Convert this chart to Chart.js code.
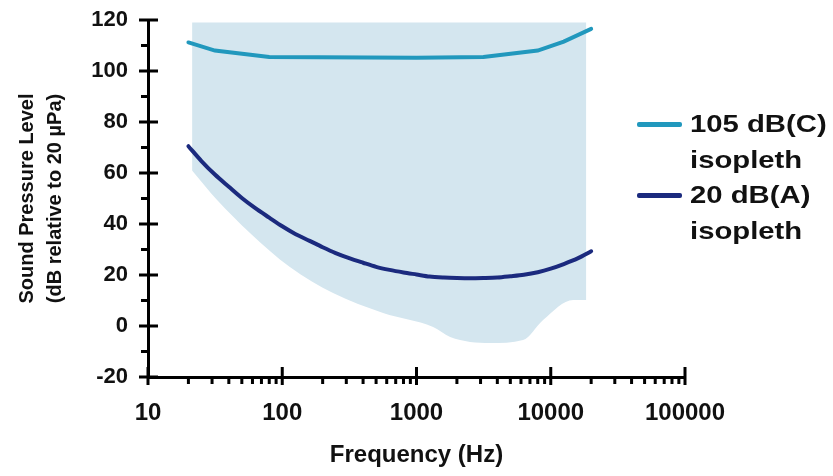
<html>
<head>
	<title>Sound pressure level isopleths</title>
	<script src="https://cdn.jsdelivr.net/npm/chart.js@4.4.1/dist/chart.umd.min.js"></script>
	<style>
		body {
			margin: 0;
			background: #fff;
		}

		#wrap {
			position: relative;
			width: 833px;
			height: 476px;
		}

		.legend {
			position: absolute;
			left: 637px;
			font-family: 'Liberation Sans', Arial, sans-serif;
			font-weight: bold;
			font-size: 24px;
			line-height: 36px;
			color: #111;
		}

		.legend .swatch {
			position: absolute;
			left: 0;
			top: 16px;
			width: 45px;
			height: 5px;
			border-radius: 2px;
		}

		.legend .text {
			position: absolute;
			left: 53px;
			top: 0;
			white-space: nowrap;
			transform: scaleX(1.22);
			transform-origin: left center;
		}
	</style>
</head>

<body>
	<div id="wrap">
		<canvas id="canvas" width="833" height="476"></canvas>
		<div class="legend" style="top: 106px;">
			<div class="swatch" style="background: #2198bd;"></div>
			<div class="text">105 dB(C)<br>isopleth</div>
		</div>
		<div class="legend" style="top: 177px;">
			<div class="swatch" style="background: #1b2a7e;"></div>
			<div class="text">20 dB(A)<br>isopleth</div>
		</div>
	</div>
	<script>
		// 105 dB(C) isopleth
		const freqC = [20, 31.5, 80, 1000, 3150, 8000, 12500, 20000];
		const levelC = [111.2, 108, 105.5, 105.2, 105.5, 108, 111.5, 116.5];

		// 20 dB(A) isopleth
		const freqA = [20, 25, 31.5, 40, 50, 63, 80, 100, 125, 160, 200, 250, 315, 400, 500, 630, 800, 1000,
			1250, 1600, 2000, 2500, 3150, 4000, 5000, 6300, 8000, 10000, 12500, 16000, 20000];
		const levelA = [70.5, 64.7, 59.4, 54.6, 50.2, 46.2, 42.5, 39.1, 36.1, 33.4, 30.9, 28.6, 26.6, 24.8, 23.2, 22, 21,
			20.2, 19.4, 19, 18.8, 18.7, 18.8, 19, 19.5, 20.1, 21.1, 22.5, 24.3, 26.6, 29.3];

		// light blue background area (upper and lower edge)
		const shadeTopFreq = [21.3, 18400];
		const shadeTopLevel = [119, 119];
		const shadeLowFreq = [21.3, 32.7, 57.5, 114, 239, 564, 1330, 1780, 3530, 6220, 8770, 14700, 18400];
		const shadeLowLevel = [61, 49.4, 36.5, 23.1, 12.9, 5.1, -0.4, -4.3, -6.7, -5.5, 2.4, 10.2, 10.2];

		// axis ticks
		const xTicks = [10, 100, 1000, 10000, 100000];
		const yTicks = [-20, 0, 20, 40, 60, 80, 100, 120];
		const yMinorTicks = [-10, 10, 30, 50, 70, 90, 110];
		const xMinorTicks = [];
		[10, 100, 1000, 10000].forEach((d) => {
			[2, 3, 4, 5, 6, 7, 8, 9].forEach((m) => xMinorTicks.push(d * m));
		});

		const toPoints = (xs, ys) => xs.map((x, i) => ({ x: x, y: ys[i] }));

		const fontFamily = "'Liberation Sans', Arial, sans-serif";

		// major ticks cross the axis, minor ticks only on the outside
		const axisTicks = {
			id: 'axisTicks',
			afterDraw(chart) {
				const { ctx, chartArea, scales } = chart;
				const left = chartArea.left;
				const bottom = chartArea.bottom;
				ctx.save();
				ctx.strokeStyle = '#000';
				ctx.lineWidth = 3;
				ctx.beginPath();
				yTicks.forEach((v) => {
					const py = scales.y.getPixelForValue(v);
					ctx.moveTo(left - 9, py);
					ctx.lineTo(left + 10, py);
				});
				yMinorTicks.forEach((v) => {
					const py = scales.y.getPixelForValue(v);
					ctx.moveTo(left - 7, py);
					ctx.lineTo(left, py);
				});
				xTicks.forEach((v) => {
					const px = scales.x.getPixelForValue(v);
					ctx.moveTo(px, bottom - 10);
					ctx.lineTo(px, bottom + 8);
				});
				xMinorTicks.forEach((v) => {
					const px = scales.x.getPixelForValue(v);
					ctx.moveTo(px, bottom);
					ctx.lineTo(px, bottom + 7);
				});
				ctx.stroke();
				ctx.restore();
			}
		};

		new Chart(document.getElementById('canvas'), {
			type: 'line',
			data: {
				datasets: [
					{
						label: '105 dB(C) isopleth',
						data: toPoints(freqC, levelC),
						borderColor: '#2198bd',
						borderWidth: 4,
						borderCapStyle: 'round',
						pointRadius: 0,
						tension: 0,
						fill: false,
					},
					{
						label: '20 dB(A) isopleth',
						data: toPoints(freqA, levelA),
						borderColor: '#1b2a7e',
						borderWidth: 4,
						borderCapStyle: 'round',
						pointRadius: 0,
						tension: 0.3,
						fill: false,
					},
					{
						label: 'area top',
						data: toPoints(shadeTopFreq, shadeTopLevel),
						borderWidth: 0,
						pointRadius: 0,
						backgroundColor: '#d4e6ef',
						fill: '+1',
					},
					{
						label: 'area bottom',
						data: toPoints(shadeLowFreq, shadeLowLevel),
						borderWidth: 0,
						pointRadius: 0,
						cubicInterpolationMode: 'monotone',
						fill: false,
					},
				],
			},
			options: {
				responsive: false,
				animation: false,
				devicePixelRatio: 1,
				layout: {
					padding: { top: 20, right: 148, left: 0, bottom: 0 },
				},
				plugins: {
					legend: { display: false },
					tooltip: { enabled: false },
				},
				scales: {
					x: {
						type: 'logarithmic',
						min: 10,
						max: 100000,
						afterBuildTicks: (scale) => {
							scale.ticks = xTicks.map((v) => ({ value: v }));
						},
						afterFit: (scale) => {
							scale.height = 99;
							scale.paddingLeft = 0;
							scale.paddingRight = 0;
						},
						grid: { display: false, drawTicks: false },
						border: { display: true, color: '#000', width: 3 },
						ticks: {
							autoSkip: false,
							maxRotation: 0,
							padding: 22,
							color: '#111',
							font: { family: fontFamily, size: 24, weight: 'bold' },
							callback: (value) => String(value),
						},
						title: {
							display: true,
							text: 'Frequency (Hz)',
							color: '#111',
							font: { family: fontFamily, size: 24, weight: 'bold', lineHeight: 1.2 },
							padding: { top: 0, bottom: 6 },
						},
					},
					y: {
						min: -20,
						max: 120,
						afterBuildTicks: (scale) => {
							scale.ticks = yTicks.map((v) => ({ value: v }));
						},
						afterFit: (scale) => {
							scale.width = 148;
							scale.paddingTop = 0;
							scale.paddingBottom = 0;
						},
						grid: { display: false, drawTicks: false },
						border: { display: true, color: '#000', width: 3 },
						ticks: {
							padding: 20,
							color: '#111',
							font: { family: fontFamily, size: 22, weight: 'bold' },
						},
						title: {
							display: true,
							text: ['Sound Pressure Level', '(dB relative to 20 µPa)'],
							color: '#111',
							font: { family: fontFamily, size: 20, weight: 'bold', lineHeight: 1.4 },
							padding: { top: 13, bottom: 0 },
						},
					},
				},
			},
			plugins: [axisTicks],
		});
	</script>
</body>

</html>
